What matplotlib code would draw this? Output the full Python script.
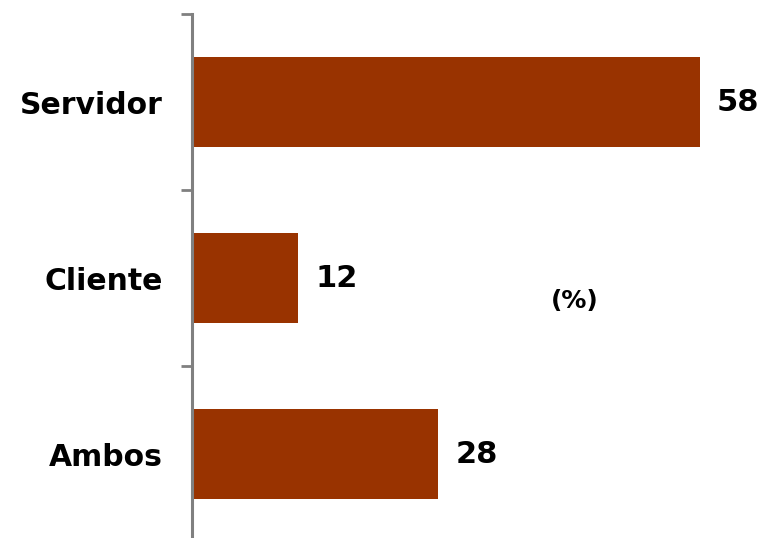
import matplotlib.pyplot as plt

categorias = ["Servidor", "Cliente", "Ambos"]
valores = [58, 12, 28]

fig = plt.figure(figsize=(7.63, 5.38), dpi=100)
# eje desde x=192 px, y de 14 px hasta abajo (sale del lienzo)
ax = fig.add_axes([192 / 763, -4 / 538, (763 - 192) / 763, (542 - 14) / 538])

y = range(len(categorias))
ax.barh(y, valores, height=0.51, color="#993300", left=0.2)
ax.set_xlim(0, (763 - 192) / 8.72)
ax.set_ylim(2.5, -0.5)

for i, v in enumerate(valores):
    ax.text(v + 2.2, i, str(v), va="center", ha="left",
            fontsize=22, fontweight="bold")

ax.text(43.9, 1.13, "(%)", ha="center", va="center", fontsize=18, fontweight="bold")

for s in ["top", "right", "bottom"]:
    ax.spines[s].set_visible(False)
ax.spines["left"].set_color("#808080")
ax.spines["left"].set_linewidth(2.2)
ax.set_xticks([])
ax.set_yticks([-0.5, 0.5, 1.5])
ax.set_yticklabels([])
ax.tick_params(axis="y", length=8, width=2, color="#808080")
ax.set_yticks(list(y), minor=True)
ax.set_yticklabels(categorias, minor=True, fontsize=21.5, fontweight="bold")
ax.tick_params(axis="y", which="minor", length=0, pad=21)

fig.savefig("out.png", dpi=100)
